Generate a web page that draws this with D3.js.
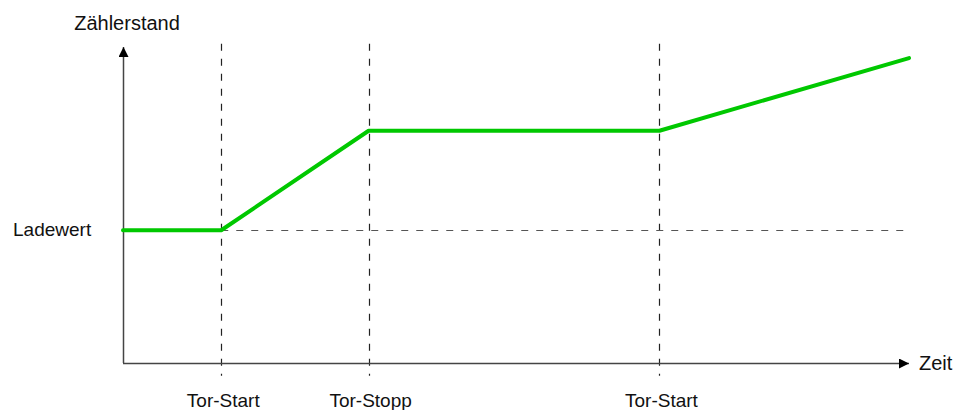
<!DOCTYPE html>
<html>
<head>
<meta charset="utf-8">
<script src="https://cdn.jsdelivr.net/npm/d3@7"></script>
<style>
  body { margin: 0; background: #fff; }
  text { font-family: Arial, "Liberation Sans", sans-serif; fill: #111; }
</style>
</head>
<body>
<div id="chart"></div>
<script>
const width = 967;
const height = 410;

// counter value over time (time units, counter units)
const times = [0, 100, 250, 546, 800];
const counts = [42, 42, 73.5, 73.5, 96.5];
const loadValue = 42;
const gateTimes = [100, 250, 546];
const gateLabels = ["Tor-Start", "Tor-Stopp", "Tor-Start"];
const yLabel = "Zählerstand";
const xLabel = "Zeit";
const loadLabel = "Ladewert";

const x = d3.scaleLinear().domain([0, 800]).range([123, 909]);
const y = d3.scaleLinear().domain([0, 100]).range([363, 47]);

const svg = d3.select("#chart").append("svg")
  .attr("width", width)
  .attr("height", height);

// arrow heads
const defs = svg.append("defs");
defs.append("marker")
  .attr("id", "arrow")
  .attr("viewBox", "0 0 10 10")
  .attr("refX", 10)
  .attr("refY", 5)
  .attr("markerWidth", 11)
  .attr("markerHeight", 10)
  .attr("markerUnits", "userSpaceOnUse")
  .attr("orient", "auto")
  .append("path")
  .attr("d", "M0,0 L10,5 L0,10 Z")
  .attr("fill", "#000");

// dashed gate lines
svg.selectAll("line.gate")
  .data(gateTimes)
  .enter()
  .append("line")
  .attr("class", "gate")
  .attr("x1", d => Math.round(x(d)) + 0.5)
  .attr("x2", d => Math.round(x(d)) + 0.5)
  .attr("y1", y(101))
  .attr("y2", y(-4))
  .attr("stroke", "#222")
  .attr("stroke-width", 1.2)
  .attr("stroke-dasharray", "7,8");

// dashed load value line
svg.append("line")
  .attr("x1", x(100))
  .attr("x2", x(800) + 1)
  .attr("y1", Math.round(y(loadValue)) + 0.5)
  .attr("y2", Math.round(y(loadValue)) + 0.5)
  .attr("stroke", "#555")
  .attr("stroke-width", 1.2)
  .attr("stroke-dasharray", "7,8");

// axes
svg.append("line")
  .attr("x1", x(0) + 0.5).attr("y1", y(0))
  .attr("x2", x(0) + 0.5).attr("y2", y(100))
  .attr("stroke", "#444")
  .attr("stroke-width", 1.5)
  .attr("marker-end", "url(#arrow)");

svg.append("line")
  .attr("x1", x(0)).attr("y1", y(0) + 0.5)
  .attr("x2", x(800)).attr("y2", y(0) + 0.5)
  .attr("stroke", "#444")
  .attr("stroke-width", 1.5)
  .attr("marker-end", "url(#arrow)");

// counter line
const line = d3.line()
  .x((d, i) => x(times[i]))
  .y(d => y(d));

svg.append("path")
  .datum(counts)
  .attr("d", line)
  .attr("fill", "none")
  .attr("stroke", "#00c800")
  .attr("stroke-width", 4)
  .attr("stroke-linecap", "round")
  .attr("stroke-linejoin", "round");

// labels
svg.append("text")
  .attr("x", 127)
  .attr("y", 30)
  .attr("text-anchor", "middle")
  .style("font-size", "20px")
  .text(yLabel);

svg.append("text")
  .attr("x", 919)
  .attr("y", y(0) + 7)
  .style("font-size", "20px")
  .text(xLabel);

svg.append("text")
  .attr("x", 13)
  .attr("y", y(loadValue) + 6)
  .style("font-size", "19px")
  .text(loadLabel);

svg.selectAll("text.gate")
  .data(gateTimes)
  .enter()
  .append("text")
  .attr("class", "gate")
  .attr("x", d => x(d) + 2)
  .attr("y", 407)
  .attr("text-anchor", "middle")
  .style("font-size", "19px")
  .text((d, i) => gateLabels[i]);
</script>
</body>
</html>
